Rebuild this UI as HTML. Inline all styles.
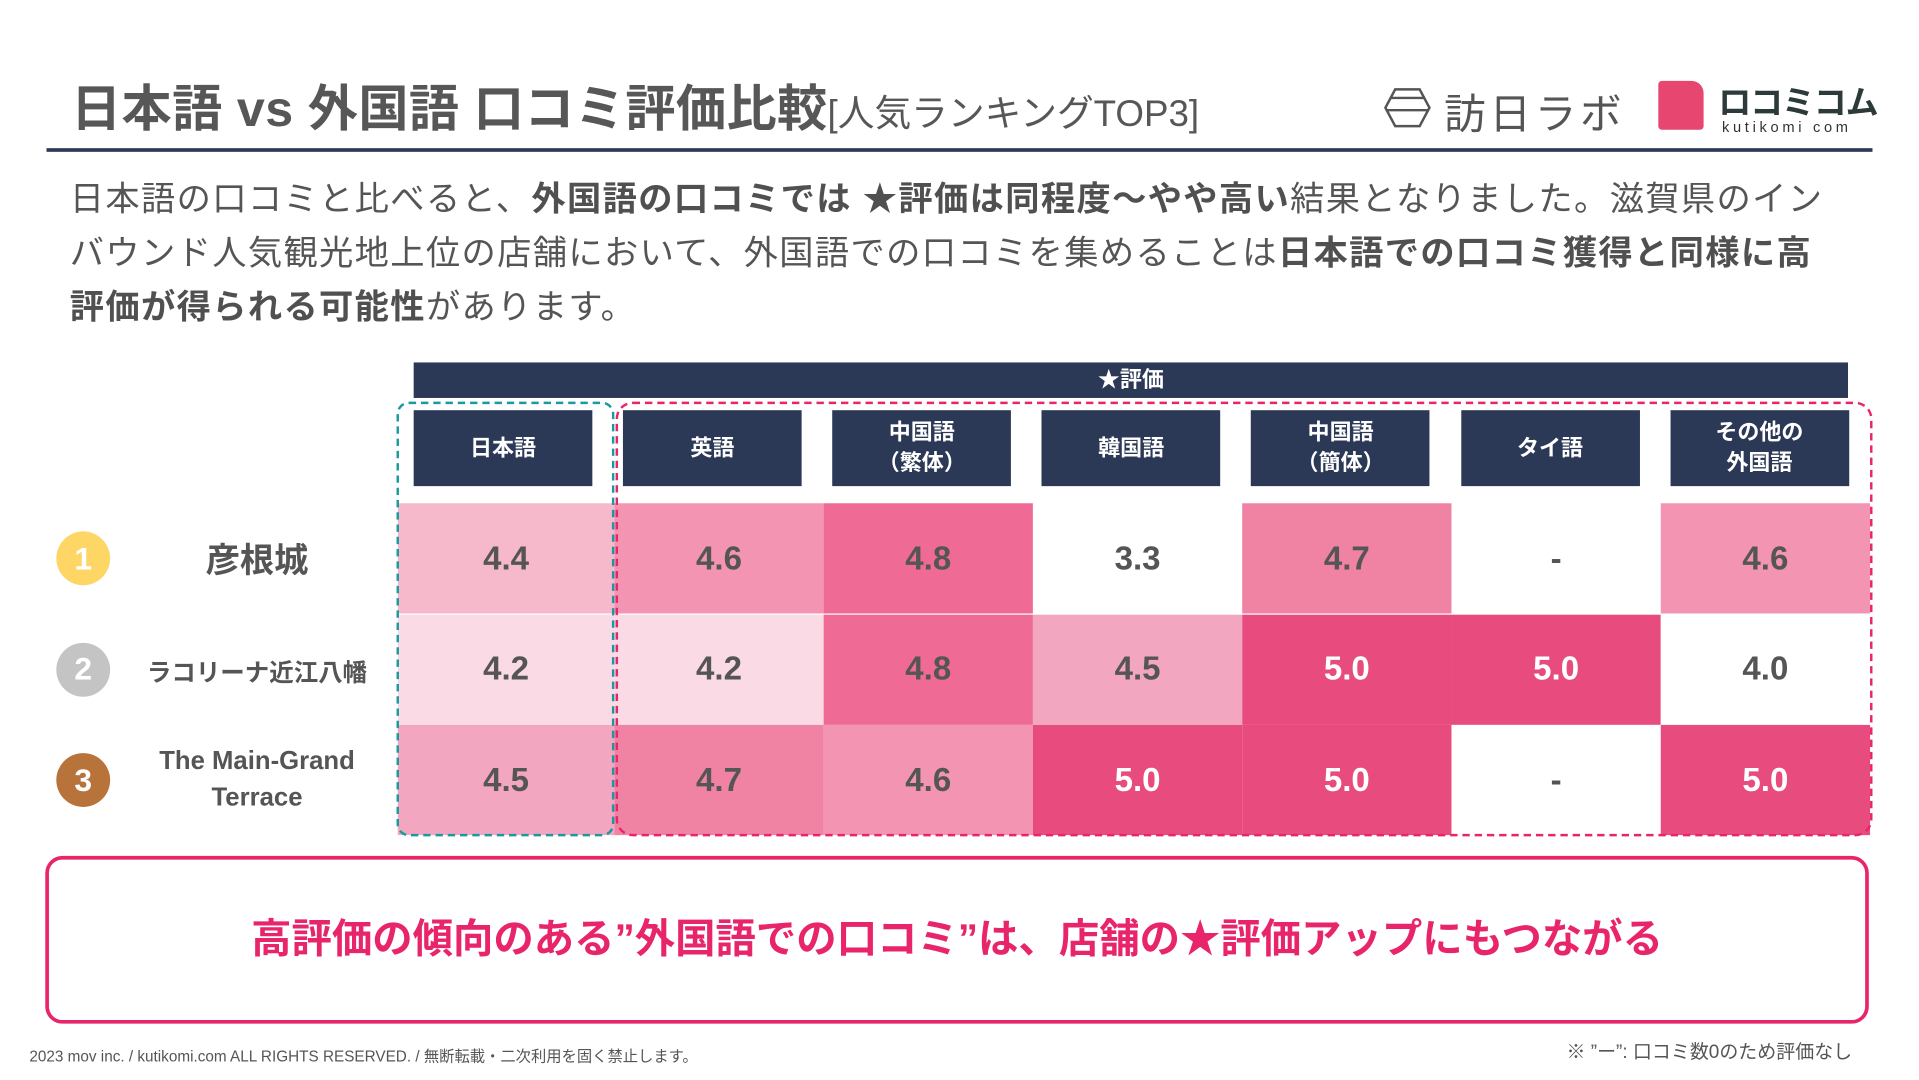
<!DOCTYPE html>
<html lang="ja">
<head>
<meta charset="utf-8">
<style>
html,body{margin:0;padding:0;background:#fff;overflow:hidden;}
body{width:1919px;height:1080px;}
#stage{position:absolute;left:0;top:0;width:1568px;height:882px;transform:scale(1.22385,1.2245);transform-origin:0 0;font-family:"Liberation Sans","Noto Sans CJK JP",sans-serif;color:#555;}
.abs{position:absolute;}
.title{left:58px;top:55px;font-size:41px;font-weight:bold;color:#575757;white-space:nowrap;letter-spacing:0.3px;}
.title small{font-size:30px;font-weight:normal;letter-spacing:0;}
.para{left:57px;top:141px;width:1480px;font-size:28px;line-height:44px;color:#555;letter-spacing:1.1px;white-space:nowrap;}
.para b{font-weight:bold;color:#505050;}
.colhead{background:#2b3856;color:#fff;font-weight:bold;font-size:18px;display:flex;align-items:center;justify-content:center;text-align:center;line-height:25px;}
.cell{display:flex;align-items:center;justify-content:center;font-weight:bold;font-size:27px;}
.rank{width:44px;height:44px;border-radius:50%;color:#fff;font-weight:bold;font-size:26px;display:flex;align-items:center;justify-content:center;}
.name{font-weight:bold;color:#555;text-align:center;width:200px;}
</style>
</head>
<body>
<div id="stage">
  <div class="abs title">日本語 vs 外国語 口コミ評価比較<small>[人気ランキングTOP3]</small></div>

  <div class="abs" style="left:1130px;top:70px;">
    <svg width="40" height="36" viewBox="0 0 40 36"><polygon points="10,3 30,3 38,18 30,33 10,33 2,18" fill="none" stroke="#555" stroke-width="2"/><line x1="6" y1="10" x2="34" y2="10" stroke="#555" stroke-width="2"/><line x1="3" y1="20" x2="37" y2="20" stroke="#555" stroke-width="2"/></svg>
  </div>
  <div class="abs" style="left:1180px;top:66px;font-size:34px;color:#555;letter-spacing:3px;white-space:nowrap;">訪日ラボ</div>
  <div class="abs" style="left:1355px;top:66px;width:37px;height:40px;background:#e6466f;border-radius:3px 10px 3px 3px;"></div>
  <div class="abs" style="left:1404px;top:62px;font-size:27px;font-weight:bold;color:#2d3a3a;letter-spacing:-1px;white-space:nowrap;">ロコミコム</div>
  <div class="abs" style="left:1407px;top:97px;font-size:12px;color:#333;letter-spacing:3px;white-space:nowrap;">kutikomi com</div>

  <div class="abs" style="left:38px;top:121px;width:1492px;height:3px;background:#2b3856;"></div>

  <div class="abs para">日本語の口コミと比べると、<b>外国語の口コミでは ★評価は同程度～やや高い</b>結果となりました。滋賀県のイン<br>バウンド人気観光地上位の店舗において、外国語での口コミを集めることは<b>日本語での口コミ獲得と同様に高<br>評価が得られる可能性</b>があります。</div>

  <div class="abs colhead" style="left:338px;top:296px;width:1172px;height:29px;">★評価</div>

  <div id="table"></div>

  <div class="abs" style="left:324px;top:328px;width:174px;height:351px;border:2px dashed #1a9aa0;border-radius:10px;"></div>
  <div class="abs" style="left:503px;top:328px;width:1023px;height:351px;border:2px dashed #e8246b;border-radius:14px;"></div>

  <div class="abs" style="left:37px;top:699px;width:1484px;height:123px;padding-bottom:8px;border:3px solid #e8246b;border-radius:14px;display:flex;align-items:center;justify-content:center;font-size:33px;font-weight:bold;color:#e8246b;">高評価の傾向のある”外国語での口コミ”は、店舗の★評価アップにもつながる</div>

  <div class="abs" style="left:24px;top:852px;font-size:12.5px;color:#555;">2023 mov inc. / kutikomi.com ALL RIGHTS RESERVED. / 無断転載・二次利用を固く禁止します。</div>
  <div class="abs" style="left:1280px;top:847px;font-size:15.5px;color:#555;white-space:nowrap;">※ ”ー”: 口コミ数0のため評価なし</div>
</div>
<script>
const languages = ["日本語","英語","中国語<br>（繁体）","韓国語","中国語<br>（簡体）","タイ語","その他の<br>外国語"];
const places = ["彦根城","ラコリーナ近江八幡","The Main-Grand<br>Terrace"];
const rowHikone = [4.4,4.6,4.8,3.3,4.7,null,4.6];
const rowLaColina = [4.2,4.2,4.8,4.5,5.0,5.0,4.0];
const rowMainGrand = [4.5,4.7,4.6,5.0,5.0,null,5.0];
const ratings = [rowHikone,rowLaColina,rowMainGrand];
const rankColors = ["#fdd666","#c4c4c4","#b8733a"];

const t = document.getElementById('table');
function colX(i){ return i===0 ? 325 : 502 + (i-1)*171; }
function colW(i){ return i===0 ? 177 : 171; }
function rowY(r){ return 411 + r*90.5; }
function cellColor(v){
  if(v===null || v<4.2) return "#ffffff";
  if(v>=5.0) return "#e84c7f";
  if(v>=4.8) return "#ef6b95";
  if(v>=4.7) return "#f082a4";
  if(v>=4.6) return "#f294b2";
  if(v>=4.5) return "#f3a6bf";
  if(v>=4.4) return "#f6b8cb";
  return "#fadae5";
}
languages.forEach((lab,i)=>{
  const h = document.createElement('div');
  h.className = 'abs colhead';
  
  
  h.style.left = (338 + i*171.1) + 'px';
  h.style.top = '335px';
  h.style.width = '146px';
  h.style.height = '62px';
  h.innerHTML = lab;
  t.appendChild(h);
});
places.forEach((p,r)=>{
  const cy = rowY(r) + 45;
  const c = document.createElement('div');
  c.className = 'abs rank';
  
  
  c.style.left = '46px';
  c.style.top = (cy-22) + 'px';
  c.style.background = rankColors[r];
  c.textContent = String(r+1);
  t.appendChild(c);
  const n = document.createElement('div');
  n.className = 'abs name';
  
  
  n.style.left = '110px';
  n.innerHTML = p;
  if(r===0){ n.style.fontSize='28px'; n.style.top=(cy-20)+'px'; }
  else if(r===1){ n.style.fontSize='20px'; n.style.top=(cy-14)+'px'; }
  else { n.style.fontSize='21px'; n.style.lineHeight='30px'; n.style.top=(cy-30)+'px'; }
  t.appendChild(n);
  ratings[r].forEach((v,i)=>{
    const d = document.createElement('div');
    d.className = 'abs cell';
    
    
    d.style.left = colX(i) + 'px';
    d.style.top = rowY(r) + 'px';
    d.style.width = colW(i) + 'px';
    d.style.height = '90px';
    d.style.background = cellColor(v);
    d.style.color = (v!==null && v>=5.0) ? '#ffffff' : '#555555';
    d.textContent = v===null ? '-' : v.toFixed(1);
    t.appendChild(d);
  });
});
</script>
</body>
</html>
